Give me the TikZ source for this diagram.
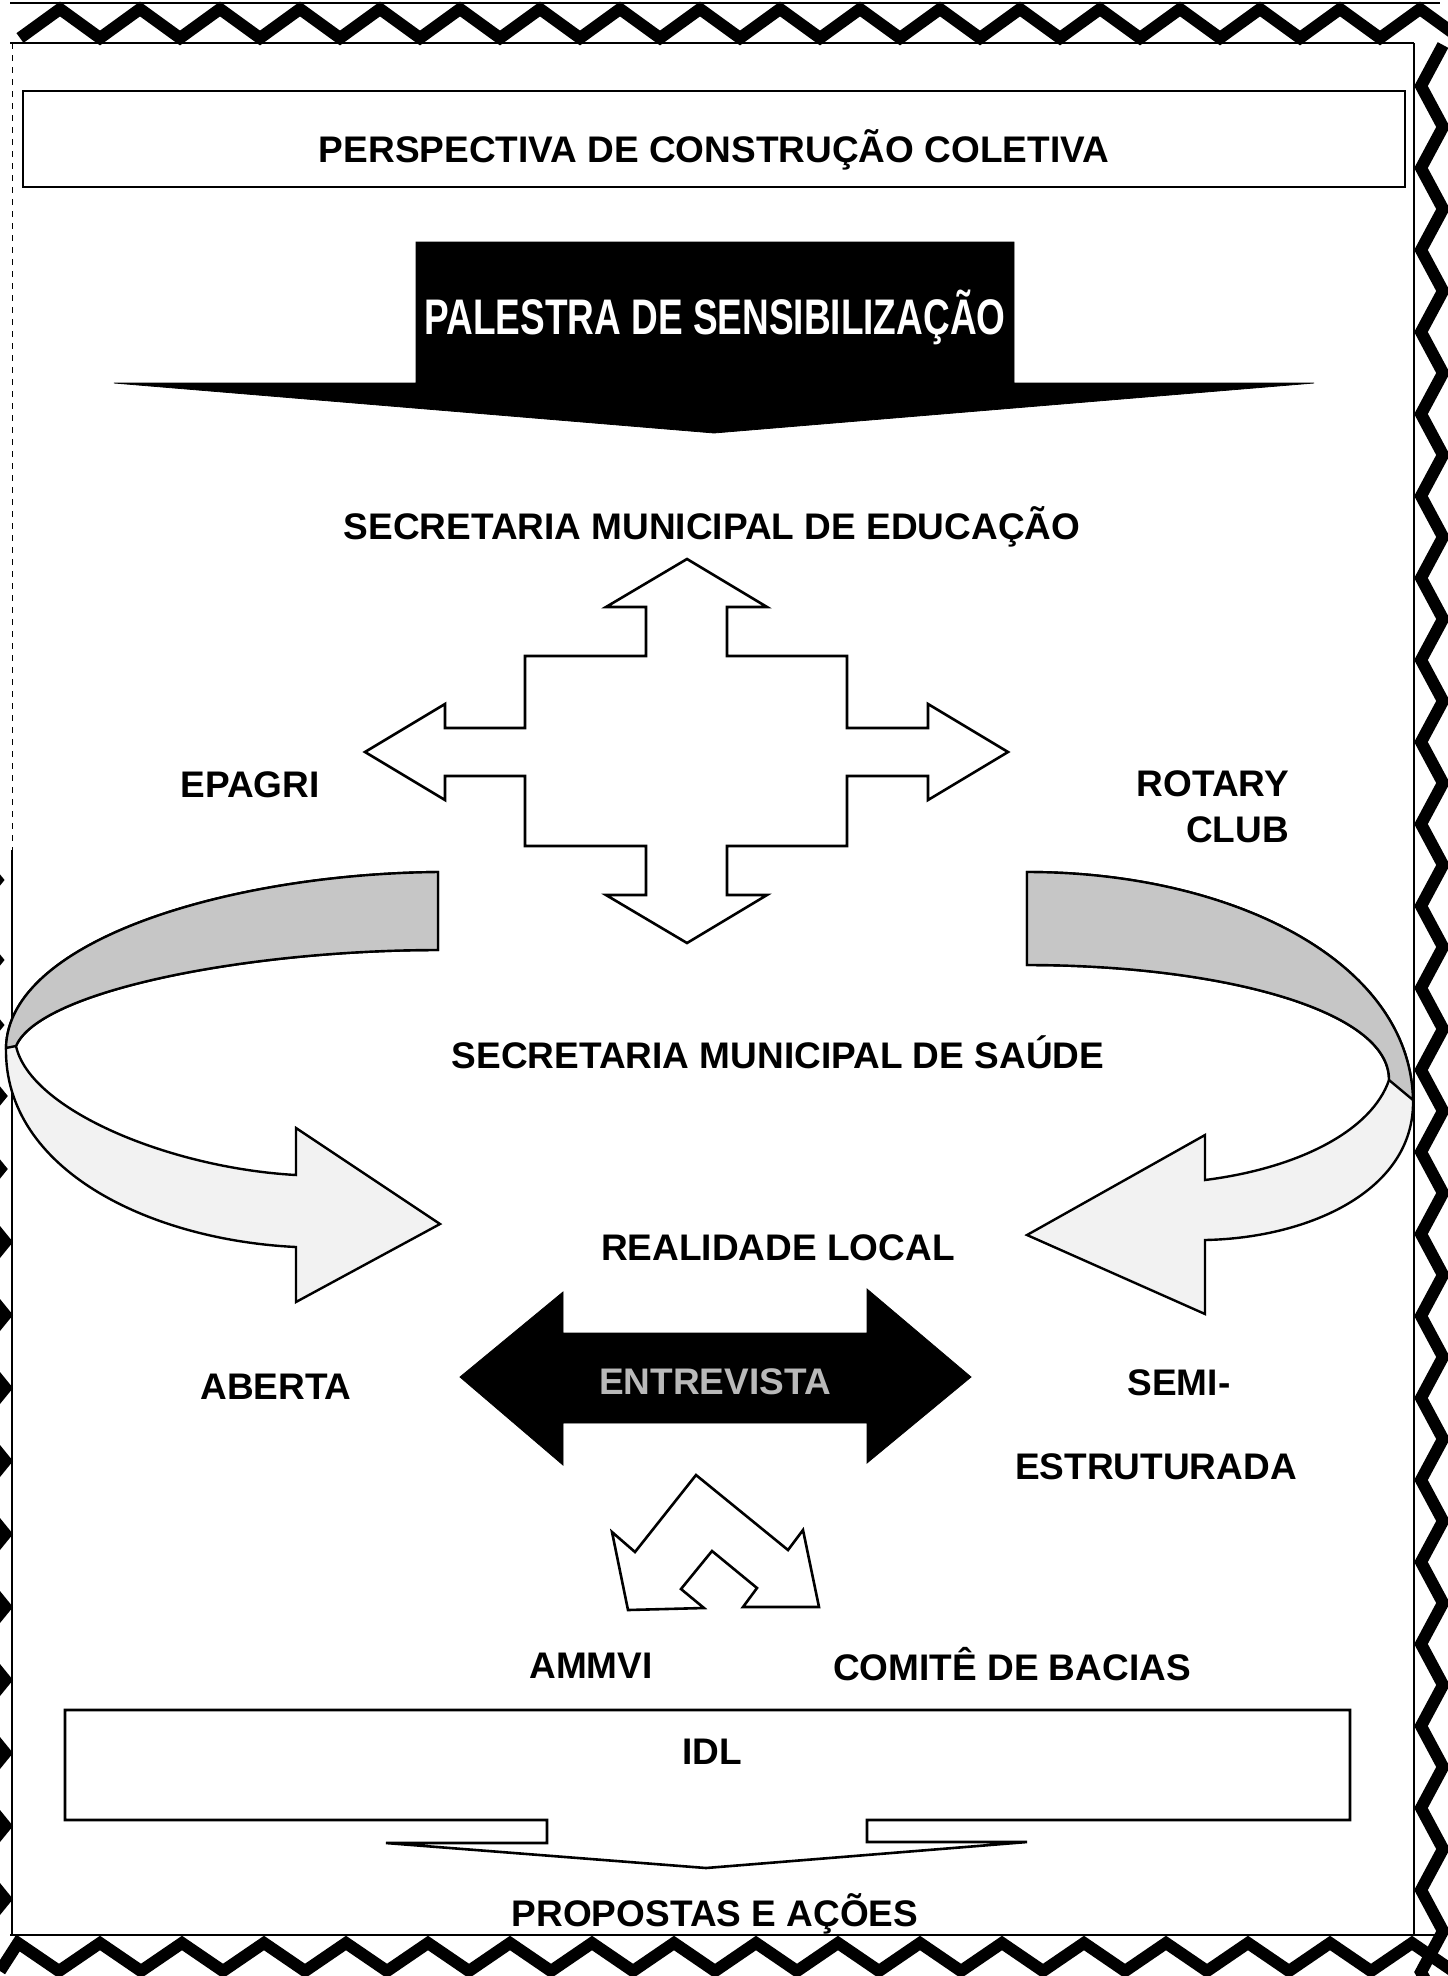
\documentclass[tikz,border=0pt]{standalone}
\usepackage{graphicx}
\usepackage{fontspec}
\setmainfont{Liberation Sans}
\usetikzlibrary{positioning}
\usetikzlibrary{backgrounds}

\begin{document}
\begin{tikzpicture}[x=0.5pt,y=-0.5pt,
                every node/.style={font=\bfseries\fontsize{18.5}{23}\selectfont},
                frame/.style={draw, line width=1.2pt},
                blockarrow/.style={draw, line width=1.3pt, fill=white, line join=miter},
                darkarrow/.style={draw=black, fill=black, line join=miter},
                ribbon/.style={draw, line width=1.2pt, fill=gray!10},
                ribbonback/.style={fill=gray!45},
                border/.style={line width=6pt, line join=miter}]
            \useasboundingbox (0,0) rectangle (1447,1976);

            % ornamental frame
            \draw[thick] (10,3) -- (1440,3);
            \draw[thick] (10,43) -- (1414,43);
            \draw[border] (20,38) \foreach \k in {0,...,17} { -- ({60+80*\k},9) -- ({100+80*\k},38) };
            \draw[thick] (1414,43) -- (1414,1935);
            \draw[border] (1443,45) \foreach \k in {0,...,23} { -- (1421,{86+82*\k}) -- (1443,{127+82*\k}) };
            \draw[thick] (10,1935) -- (1440,1935);
            \draw[border] (0,1971) \foreach \k in {0,...,17} { -- ({18+82*\k},1943) -- ({59+82*\k},1971) };
            \draw[thin, dashed] (12,43) -- (12,850);
            \draw[thick] (12,850) -- (12,1935);
            \foreach \y/\s in {880/0.35, 960/0.35, 1025/0.35, 1096/0.6, 1169/0.6, 1242/1, 1315/1, 1388/1,
                               1461/1, 1534/1, 1607/1, 1680/1, 1753/1, 1826/1, 1899/1}
                \fill (0,{\y-16*\s}) -- ({13*\s},\y) -- (0,{\y+16*\s}) -- cycle;

            % title
            \draw[frame] (23,91) rectangle (1405,187);
            \node (titulo) at (714,150) {PERSPECTIVA DE CONSTRUÇÃO COLETIVA};

            % palestra
            \filldraw[darkarrow] (416,242) -- (1014,242) -- (1014,383) -- (1314,383) -- (714,433)
                -- (114,383) -- (416,383) -- cycle;
            \node[text=white] (palestra) at (715,317)
                {\scalebox{0.74}[1]{\fontsize{25}{28}\selectfont PALESTRA DE SENSIBILIZAÇÃO}};

            \node (sme) at (712,527) {SECRETARIA MUNICIPAL DE EDUCAÇÃO};

            % cruz de setas
            \draw[blockarrow] (687,559) -- (767,607) -- (727,607) -- (727,656) -- (847,656) -- (847,728)
                -- (928,728) -- (928,704) -- (1008,752) -- (928,800) -- (928,776) -- (847,776)
                -- (847,846) -- (727,846) -- (727,895) -- (767,895) -- (687,943) -- (606,895)
                -- (646,895) -- (646,846) -- (525,846) -- (525,776) -- (445,776) -- (445,800)
                -- (365,752) -- (445,704) -- (445,728) -- (525,728) -- (525,656) -- (646,656)
                -- (646,607) -- (606,607) -- cycle;

            \node (epagri) at (250,785) {EPAGRI};
            \node[align=right, anchor=east] (rotary) at (1296,807) {ROTARY\\CLUB};

            % setas curvas
            \filldraw[ribbon] (438,872) .. controls (230,874) and (8,940) .. (6,1048)
                .. controls (4,1170) and (150,1240) .. (296,1247) -- (296,1302) -- (440,1224)
                -- (296,1128) -- (296,1175) .. controls (170,1168) and (30,1110) .. (16,1046)
                .. controls (40,990) and (250,950) .. (438,950) -- cycle;
            \filldraw[ribbonback, draw, line width=1.2pt] (438,872) .. controls (230,874) and (8,940) .. (6,1048)
                -- (16,1046) .. controls (40,990) and (250,950) .. (438,950) -- cycle;

            \filldraw[ribbon] (1027,872) .. controls (1230,872) and (1410,960) .. (1413,1100)
                .. controls (1415,1190) and (1310,1238) .. (1205,1240) -- (1205,1314) -- (1027,1235)
                -- (1205,1135) -- (1205,1180) .. controls (1300,1168) and (1372,1130) .. (1389,1080)
                .. controls (1390,1010) and (1220,965) .. (1027,965) -- cycle;
            \filldraw[ribbonback, draw, line width=1.2pt] (1027,872) .. controls (1230,872) and (1410,960) .. (1413,1100)
                -- (1389,1080) .. controls (1390,1010) and (1220,965) .. (1027,965) -- cycle;

            \node (sms) at (778,1052) {SECRETARIA MUNICIPAL DE SAÚDE};
            \node (realidade) at (778,1248) {REALIDADE LOCAL};

            % entrevista
            \filldraw[darkarrow] (460,1377) -- (563,1292) -- (563,1333) -- (867,1333) -- (867,1289)
                -- (971,1377) -- (867,1463) -- (867,1423) -- (563,1423) -- (563,1465) -- cycle;
            \node[text=gray!55] (entrevista) at (715,1382) {ENTREVISTA};

            \node (aberta) at (276,1387) {ABERTA};
            \node (semi) at (1179,1383) {SEMI-};
            \node (estrut) at (1156,1467) {ESTRUTURADA};

            % seta em U
            \draw[blockarrow] (612,1532) -- (635,1552) -- (696,1475) -- (788,1550) -- (803,1530)
                -- (819,1607) -- (743,1607) -- (757,1588) -- (712,1551) -- (681,1589) -- (704,1608)
                -- (628,1610) -- cycle;

            \node (ammvi) at (591,1666) {AMMVI};
            \node (comite) at (1012,1664) {COMITÊ DE BACIAS};

            % IDL
            \draw[blockarrow] (65,1710) -- (1350,1710) -- (1350,1820) -- (867,1820) -- (867,1842)
                -- (1027,1842) -- (706,1868) -- (386,1843) -- (547,1843) -- (547,1820)
                -- (65,1820) -- cycle;
            \node (idl) at (712,1752) {IDL};
            \node (propostas) at (715,1914) {PROPOSTAS E AÇÕES};
        \end{tikzpicture}
\end{document}
